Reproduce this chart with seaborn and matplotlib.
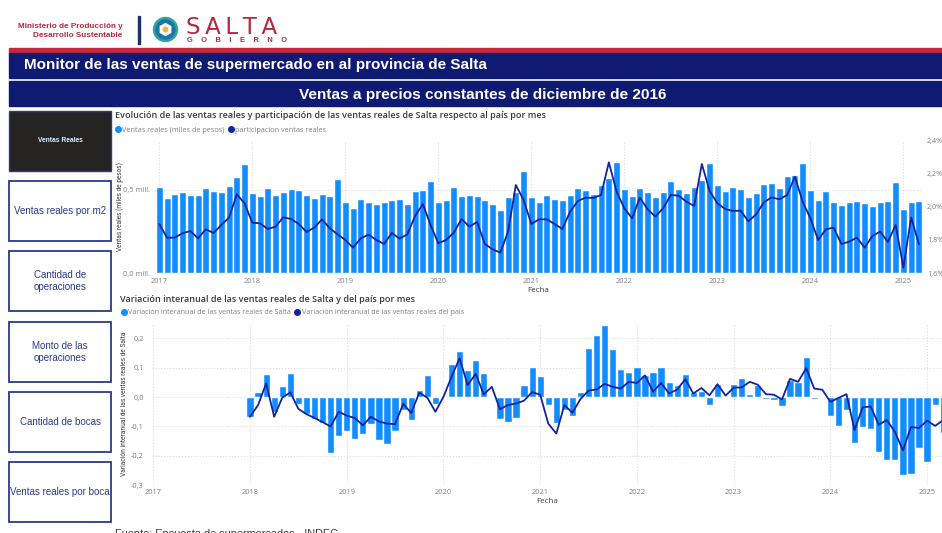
import pandas as pd
import seaborn as sns
import matplotlib.pyplot as plt
from matplotlib.lines import Line2D
from matplotlib.patches import Rectangle, Circle, RegularPolygon

# ----------------------------
# Data
# ----------------------------

years = ["2017", "2018", "2019", "2020", "2021", "2022", "2023", "2024", "2025"]

ventas_reales = [
    0.52, 0.454, 0.474, 0.49, 0.468, 0.47, 0.51, 0.494, 0.49, 0.526, 0.576, 0.656,
    0.484, 0.462, 0.51, 0.47, 0.486, 0.508, 0.498, 0.47, 0.452, 0.478, 0.466, 0.568,
    0.428, 0.394, 0.446, 0.426, 0.414, 0.428, 0.438, 0.448, 0.416, 0.492, 0.50, 0.556,
    0.428, 0.44, 0.518, 0.466, 0.468, 0.462, 0.438, 0.414, 0.38, 0.456, 0.486, 0.614,
    0.46, 0.428, 0.47, 0.444, 0.438, 0.47, 0.51, 0.502, 0.474, 0.53, 0.57, 0.666,
    0.508, 0.462, 0.51, 0.488, 0.46, 0.49, 0.554, 0.508, 0.484, 0.516, 0.56, 0.664,
    0.532, 0.492, 0.518, 0.508, 0.458, 0.482, 0.534, 0.54, 0.512, 0.586, 0.59, 0.662,
    0.498, 0.442, 0.494, 0.426, 0.41, 0.43, 0.434, 0.422, 0.402, 0.428, 0.432, 0.546,
    0.386, 0.428, 0.434,
]

participacion = [
    1.896, 1.814, 1.814, 1.84, 1.854, 1.81, 1.864, 1.842, 1.89, 1.934, 2.074, 2.02,
    1.904, 1.90, 1.866, 1.88, 1.936, 1.926, 1.896, 1.848, 1.874, 1.924, 1.87, 1.834,
    1.80, 1.754, 1.81, 1.832, 1.80, 1.776, 1.842, 1.808, 1.834, 1.944, 2.016, 1.89,
    1.78, 1.80, 1.844, 1.926, 1.88, 1.908, 1.776, 1.744, 1.724, 1.85, 2.13, 2.04,
    1.896, 1.924, 1.924, 1.896, 1.866, 1.97, 2.034, 2.054, 2.052, 2.07, 2.266, 2.09,
    1.99, 1.93, 2.054, 1.984, 1.94, 1.99, 2.07, 2.066, 2.03, 2.004, 2.256, 2.094,
    2.02, 1.986, 1.974, 1.976, 1.912, 1.954, 2.026, 2.056, 2.044, 2.07, 2.18, 2.03,
    1.93, 1.80, 1.864, 1.874, 1.776, 1.79, 1.814, 1.754, 1.824, 1.85, 1.788, 1.89,
    1.634, 1.936, 1.774,
]

# desde enero 2018
var_salta = [
    -0.067, 0.017, 0.078, -0.05, 0.039, 0.082, -0.025, -0.056, -0.073, -0.087, -0.189, -0.133,
    -0.117, -0.142, -0.125, -0.092, -0.145, -0.159, -0.117, -0.044, -0.078, 0.025, 0.074, -0.023,
    -0.001, 0.112, 0.156, 0.092, 0.126, 0.082, -0.001, -0.076, -0.085, -0.07, 0.042, 0.103,
    0.073, -0.027, -0.087, -0.044, -0.063, 0.017, 0.166, 0.211, 0.245, 0.162, 0.094, 0.085,
    0.102, 0.076, 0.085, 0.101, 0.053, 0.042, 0.08, 0.018, 0.02, -0.027, 0.043, -0.002,
    0.046, 0.066, 0.009, 0.04, -0.006, -0.011, -0.031, 0.058, 0.052, 0.135, -0.006, -0.002,
    -0.063, -0.099, -0.043, -0.156, -0.102, -0.109, -0.187, -0.213, -0.213, -0.266, -0.263, -0.173,
    -0.22, -0.028, -0.121,
]

var_pais = [
    -0.067, -0.027, 0.046, -0.067, -0.002, 0.016, -0.04, -0.058, -0.071, -0.085, -0.10, -0.05,
    -0.063, -0.071, -0.096, -0.067, -0.083, -0.09, -0.092, -0.023, -0.054, 0.015, -0.002, -0.05,
    0.001, 0.069, 0.132, 0.041, 0.079, 0.009, 0.035, -0.041, -0.027, -0.022, -0.012, 0.017,
    0.008, -0.09, -0.124, -0.027, -0.053, -0.007, 0.022, 0.026, 0.045, 0.035, 0.029, 0.052,
    0.048, 0.074, 0.018, 0.048, 0.012, 0.026, 0.061, 0.012, 0.031, 0.006, 0.044, 0.005,
    0.032, 0.033, 0.052, 0.042, 0.01, 0.008, -0.008, 0.062, 0.052, 0.098, 0.029, 0.025,
    -0.016, -0.003, 0.01, -0.112, -0.035, -0.032, -0.094, -0.078, -0.118, -0.181, -0.102, -0.105,
    -0.08, -0.098, -0.078,
]

menu = [
    "Ventas reales por m2",
    "Cantidad de\noperaciones",
    "Monto de las\noperaciones",
    "Cantidad de bocas",
    "Ventas reales por boca",
]

top_df = pd.DataFrame(
    {"mes": range(len(ventas_reales)), "ventas": ventas_reales, "part": participacion}
)
bottom_df = pd.DataFrame(
    {"mes": range(12, 12 + len(var_salta)), "salta": var_salta, "pais": var_pais}
)

# ----------------------------
# Figure and page furniture
# ----------------------------

sns.set_theme(style="white")
plt.rcParams["font.family"] = ["Open Sans", "DejaVu Sans"]

W, H = 942, 533
BLUE = "#118DFF"
DARK = "#12239E"
NAVY = "#0F1A73"
RED = "#B5283F"
GREY = "#808080"
TITLE = "#3A3A3A"
GRID = "#DDDDDD"

fig = plt.figure(figsize=(W / 100, H / 100), dpi=100)


def px_axes(left, top, right, bottom):
    return fig.add_axes([left / W, 1 - bottom / H, (right - left) / W, (bottom - top) / H])


page = fig.add_axes([0, 0, 1, 1])
page.set_xlim(0, W)
page.set_ylim(H, 0)
page.axis("off")

page.add_patch(Rectangle((9, 48), 933, 6, color="#C8283C"))
page.add_patch(Rectangle((9, 53), 933, 25, color=NAVY))
page.add_patch(Rectangle((9, 81), 933, 25, color=NAVY))
page.text(24, 64.5, "Monitor de las ventas de supermercado en al provincia de Salta",
          color="white", fontsize=11, fontweight="bold", family="Liberation Sans", va="center")
page.text(482.5, 94.5, "Ventas a precios constantes de diciembre de 2016",
          color="white", fontsize=11.1, fontweight="bold", family="Liberation Sans",
          va="center", ha="center")

# logo
page.text(122.5, 26.5, "Ministerio de Producción y", color=RED, fontsize=5.9, fontweight="bold",
          family="Liberation Sans", ha="right", va="center")
page.text(122.5, 35.5, "Desarrollo Sustentable", color=RED, fontsize=5.9, fontweight="bold",
          family="Liberation Sans", ha="right", va="center")
page.add_patch(Rectangle((137.5, 16), 2, 28, color="#1F2F6B"))
page.add_patch(Circle((165.5, 29.5), 12, color="#2FA69A"))
page.add_patch(Circle((165.5, 29.5), 9.5, color="#1B75A8"))
page.add_patch(RegularPolygon((165.5, 29.5), 6, radius=6, color="white"))
page.add_patch(Circle((165.5, 29.5), 2.2, color="#E8B93A"))
page.text(186, 33.5, "S\u2009A\u2009L\u2009T\u2009A", color=RED, fontsize=16.5,
          family="DejaVu Sans", va="baseline")
page.text(187, 42.5, "G    O    B    I    E    R    N    O", color=RED, fontsize=5.4, fontweight="bold",
          family="Liberation Sans", va="baseline")

# side menu
page.add_patch(Rectangle((9, 111), 102, 60, facecolor="#252423", edgecolor="#2B3A8C", lw=1))
page.text(60, 141, "Ventas Reales", color="#DDEEFF", fontsize=4.8, fontweight="bold",
          family="Liberation Sans", ha="center", va="center")
for i, label in enumerate(menu):
    top = 181 + i * 70.3
    page.add_patch(Rectangle((9, top), 102, 60, facecolor="white", edgecolor="#2B3A8C", lw=1.3))
    page.text(60, top + 30, label, color="#2B3A8C", fontsize=7, family="Liberation Sans",
              ha="center", va="center", linespacing=1.25)

# chart titles and footer
page.text(115, 116, "Evolución de las ventas reales y participación de las ventas reales de Salta respecto al país por mes",
          color=TITLE, fontsize=6.5, fontweight="semibold", va="center")
page.text(120, 299, "Variación interanual de las ventas reales de Salta y del país por mes",
          color=TITLE, fontsize=6.5, fontweight="semibold", va="center")
page.text(115, 537, "Fuente: Encuesta de supermercados - INDEC", color=TITLE, fontsize=7.8,
          family="Liberation Sans", va="baseline")

# ----------------------------
# Top chart: ventas + participacion
# ----------------------------

ax = px_axes(154, 140, 922, 273.3)
sns.barplot(data=top_df, x="mes", y="ventas", native_scale=True, orient="x", color=BLUE,
            saturation=1, errorbar=None, width=0.9, ax=ax, zorder=2)
ax.set_xlim(-0.68, 98.4)
ax.set_ylim(0, 0.8)
ax.set_xticks(range(0, 108, 12), years)
ax.set_yticks([0, 0.5], ["0,0 mill.", "0,5 mill."])
ax.grid(True, color=GRID, linestyle=":", linewidth=0.8, zorder=0)
ax.set_axisbelow(True)
sns.despine(ax=ax, left=True, bottom=True)
ax.tick_params(length=0, labelsize=5.4, labelcolor=GREY, pad=3)
ax.tick_params(axis="x", pad=3.5)
ax.set_xlabel("Fecha", fontsize=5.8, color=TITLE, labelpad=1.5)
ax.set_ylabel("")

ax2 = ax.twinx()
sns.lineplot(data=top_df, x="mes", y="part", color=DARK, linewidth=1.3, errorbar=None, ax=ax2)
ax2.set_ylim(1.6, 2.4)
ax2.set_yticks([1.6, 1.8, 2.0, 2.2, 2.4], ["1,6%", "1,8%", "2,0%", "2,2%", "2,4%"])
ax2.set_ylabel("")
ax2.grid(False)
sns.despine(ax=ax2, left=True, bottom=True, right=True)
ax2.tick_params(length=0, labelsize=5.2, labelcolor=GREY, pad=3.5)

page.text(120.5, 207, "Ventas reales (miles de pesos)", color=TITLE, fontsize=4.7, rotation=90,
          family="Roboto", ha="center", va="center")

dot = dict(marker="o", linestyle="", markersize=4)
ax.legend(
    handles=[
        Line2D([], [], color=BLUE, label="Ventas reales (miles de pesos)", **dot),
        Line2D([], [], color=DARK, label="participacion ventas reales", **dot),
    ],
    loc="center left", bbox_to_anchor=(115, 130), bbox_transform=page.transData, ncol=2,
    frameon=False, fontsize=5.2, labelcolor=GREY, borderaxespad=0, borderpad=0,
    handlelength=0.8, handletextpad=0.2, columnspacing=0.5,
)

# ----------------------------
# Bottom chart: variacion interanual
# ----------------------------

ax3 = px_axes(152, 323, 942, 485.3)
sns.barplot(data=bottom_df, x="mes", y="salta", native_scale=True, orient="x", color=BLUE,
            saturation=1, errorbar=None, width=0.9, ax=ax3, zorder=2)
sns.lineplot(data=bottom_df, x="mes", y="pais", color=DARK, linewidth=1.3, errorbar=None, ax=ax3, zorder=3)
ax3.set_xlim(-0.16, 97.85)
ax3.set_ylim(-0.3, 0.252)
ax3.set_xticks(range(0, 108, 12), years)
ax3.set_yticks([-0.3, -0.2, -0.1, 0, 0.1, 0.2], ["-0,3", "-0,2", "-0,1", "0,0", "0,1", "0,2"])
ax3.grid(True, color=GRID, linestyle=":", linewidth=0.8, zorder=0)
ax3.set_axisbelow(True)
sns.despine(ax=ax3, left=True, bottom=True, right=True)
ax3.tick_params(length=0, labelsize=5.4, labelcolor=GREY, pad=6)
ax3.tick_params(axis="x", pad=2.5)
ax3.set_xlabel("Fecha", fontsize=5.8, color=TITLE, labelpad=1.5)
ax3.set_ylabel("")

page.text(125, 404, "Variación interanual de las ventas reales de Salta", color=TITLE, fontsize=4.8,
          rotation=90, family="Roboto", ha="center", va="center")

ax3.legend(
    handles=[
        Line2D([], [], color=BLUE, label="Variación interanual de las ventas reales de Salta", **dot),
        Line2D([], [], color=DARK, label="Variación interanual de las ventas reales del país", **dot),
    ],
    loc="center left", bbox_to_anchor=(121, 313), bbox_transform=page.transData, ncol=2,
    frameon=False, fontsize=5.1, labelcolor=GREY, borderaxespad=0, borderpad=0,
    handlelength=0.8, handletextpad=0.2, columnspacing=0.5,
)

fig.savefig("out.png", dpi=100)
